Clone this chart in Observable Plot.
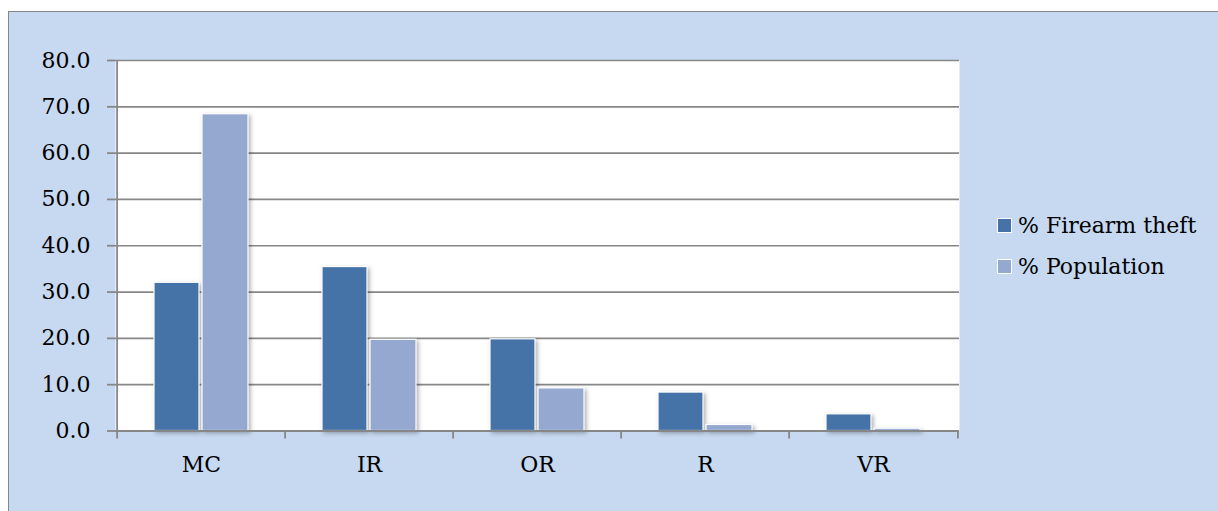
<!DOCTYPE html>
<html>
<head>
<meta charset="utf-8">
<script src="https://cdn.jsdelivr.net/npm/d3@7"></script>
<script src="https://cdn.jsdelivr.net/npm/@observablehq/plot@0.6"></script>
<style>
  html, body { margin: 0; padding: 0; background: #ffffff; }
  #wrap { position: relative; width: 1218px; height: 511px; overflow: hidden; }
  #bg { position: absolute; left: 8px; top: 11px; width: 1230px; height: 520px;
        background: #C6D9F0; border-left: 1.5px solid #878787; border-top: 1.5px solid #878787; }
  #chart { position: absolute; left: 0; top: 0; }
  #legend { position: absolute; left: 997px; top: 205px; font-family: "DejaVu Serif", serif;
            font-size: 22px; color: #000; line-height: 41px; }
  #legend .item { display: flex; align-items: center; white-space: nowrap; }
  #legend .sw { width: 13px; height: 13px; border: 1px solid #fff; margin-right: 6px; box-sizing: content-box; }
</style>
</head>
<body>
<div id="wrap">
  <div id="bg"></div>
  <div id="chart"></div>
  <div id="legend"></div>
</div>
<script>
const categories = ["MC", "IR", "OR", "R", "VR"];
const firearmTheft = [32.0, 35.4, 19.8, 8.3, 3.6];
const population = [68.4, 19.7, 9.2, 1.3, 0.5];
const seriesNames = ["% Firearm theft", "% Population"];
const seriesColors = ["#4572A7", "#95A9D0"];
const yTicks = [0, 10, 20, 30, 40, 50, 60, 70, 80];

const firearmRows = categories.map((c, i) => ({category: c, value: firearmTheft[i]}));
const populationRows = categories.map((c, i) => ({category: c, value: population[i]}));

const W = 1218, H = 511, mL = 115, mR = 259, mT = 60, mB = 80.5;
const bw = (W - mL - mR) / categories.length;

const chart = Plot.plot({
  width: W, height: H,
  marginLeft: mL, marginRight: mR, marginTop: mT, marginBottom: mB,
  style: {background: "transparent", fontFamily: "DejaVu Serif", fontSize: "22px", color: "#000", overflow: "visible"},
  x: {type: "band", domain: categories, padding: 0},
  y: {domain: [0, 80]},
  marks: [
    Plot.frame({fill: "white", stroke: null}),
    Plot.ruleY(yTicks.filter(d => d > 0), {stroke: "#878787", strokeWidth: 1.7}),
    Plot.barY(firearmRows, {x: "category", y: "value", fill: seriesColors[0], stroke: "white", strokeWidth: 1.2, insetLeft: 37, insetRight: 86}),
    Plot.barY(populationRows, {x: "category", y: "value", fill: seriesColors[1], stroke: "white", strokeWidth: 1.2, insetLeft: 85, insetRight: 37}),
    Plot.ruleY([0], {stroke: "#878787", strokeWidth: 1.8}),
    Plot.ruleX([categories[0]], {y1: 0, y2: 80, dx: -bw / 2, stroke: "#878787", strokeWidth: 1.8}),
    Plot.axisY({ticks: yTicks, tickSize: 8, tickPadding: 17, tickFormat: d3.format(".1f"), stroke: "#878787", strokeWidth: 1.8, strokeOpacity: 1, label: null, fill: "#000"}),
    Plot.axisX({ticks: categories, tickSize: 8, tickFormat: () => "", dx: -bw / 2, stroke: "#878787", strokeWidth: 1.8, strokeOpacity: 1, label: null}),
    Plot.axisX({ticks: [categories[categories.length - 1]], tickSize: 8, tickFormat: () => "", dx: bw / 2, stroke: "#878787", strokeWidth: 1.8, strokeOpacity: 1, label: null}),
    Plot.axisX({ticks: categories, tickSize: 0, tickPadding: 25, label: null, fill: "#000"})
  ]
});
document.getElementById("chart").appendChild(chart);

d3.select(chart).selectAll('g[aria-label="bar"]').style("filter", "drop-shadow(2px 2px 2px rgba(0,0,0,0.3))");

const legend = d3.select("#legend");
seriesNames.forEach((name, i) => {
  const item = legend.append("div").attr("class", "item");
  item.append("div").attr("class", "sw").style("background", seriesColors[i]);
  item.append("span").text(name);
});
</script>
</body>
</html>
